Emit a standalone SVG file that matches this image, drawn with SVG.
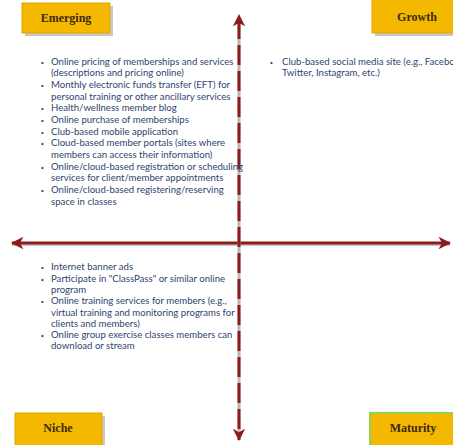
<svg xmlns="http://www.w3.org/2000/svg" width="453" height="445" viewBox="0 0 453 445">
<style>
.box{fill:#F4B800;stroke:#E0A800;stroke-width:1}
.shadow{fill:#9a9a9a;opacity:0.55}
.title{font-family:"Liberation Serif",serif;font-weight:bold;font-size:12px;fill:#3a2a10;text-anchor:middle}
.lst{font-family:Lato,"Liberation Sans",sans-serif;font-size:9.6px;fill:#2F4470}
.bul{font-family:"Liberation Sans",sans-serif;font-size:8px;fill:#2F4470}
</style>
<defs>
<marker id="ah" viewBox="0 0 12 12" refX="11" refY="6" markerWidth="4.2" markerHeight="4.2" markerUnits="strokeWidth" orient="auto-start-reverse">
<path d="M0,0 L12,6 L0,12 L3.5,6 z" fill="#8B1C1C"/>
</marker>
</defs>
<rect width="453" height="445" fill="#ffffff"/>
<g id="connectors">
<line x1="12" y1="244.5" x2="450" y2="244.5" stroke="#b0a0a0" stroke-width="3" opacity="0.6"/>
<line x1="12" y1="243" x2="450" y2="243" stroke="#8B1C1C" stroke-width="3" marker-start="url(#ah)" marker-end="url(#ah)"/>
<line x1="239" y1="22" x2="239" y2="432" stroke="#b8b8b8" stroke-width="3"/>
<line x1="239" y1="15" x2="239" y2="440" stroke="#8B1C1C" stroke-width="3" stroke-dasharray="20 6" stroke-dashoffset="-4" marker-start="url(#ah)" marker-end="url(#ah)"/>
</g>
<g id="emerging">
<rect class="shadow" x="25" y="6" width="88" height="30"/>
<rect class="box" x="22" y="3" width="88" height="30"/>
<text class="title" x="66" y="22">Emerging</text>
</g>
<g id="growth">
<rect class="shadow" x="375" y="3" width="80" height="33"/>
<rect class="box" x="372" y="-1" width="84" height="34"/>
<text class="title" x="417" y="21">Growth</text>
</g>
<g id="niche">
<rect class="shadow" x="18" y="416" width="87" height="32"/>
<rect class="box" x="15" y="413" width="87" height="34"/>
<text class="title" x="58" y="432">Niche</text>
</g>
<g id="maturity">
<rect class="shadow" x="372" y="415" width="85" height="32"/>
<rect x="370" y="413" width="86" height="34" fill="#F4B800" stroke="#92D050" stroke-width="2"/>
<text class="title" x="413" y="432">Maturity</text>
</g>
<g id="emerging-list">
<text class="bul" x="41" y="64.5">•</text>
<text class="lst" x="51" y="64.5">Online pricing of memberships and services</text>
<text class="lst" x="51" y="76.2">(descriptions and pricing online)</text>
<text class="bul" x="41" y="87.8">•</text>
<text class="lst" x="51" y="87.8">Monthly electronic funds transfer (EFT) for</text>
<text class="lst" x="51" y="99.5">personal training or other ancillary services</text>
<text class="bul" x="41" y="111.2">•</text>
<text class="lst" x="51" y="111.2">Health/wellness member blog</text>
<text class="bul" x="41" y="122.8">•</text>
<text class="lst" x="51" y="122.8">Online purchase of memberships</text>
<text class="bul" x="41" y="134.5">•</text>
<text class="lst" x="51" y="134.5">Club-based mobile application</text>
<text class="bul" x="41" y="146.2">•</text>
<text class="lst" x="51" y="146.2">Cloud-based member portals (sites where</text>
<text class="lst" x="51" y="157.8">members can access their information)</text>
<text class="bul" x="41" y="169.5">•</text>
<text class="lst" x="51" y="169.5">Online/cloud-based registration or scheduling</text>
<text class="lst" x="51" y="181.2">services for client/member appointments</text>
<text class="bul" x="41" y="192.8">•</text>
<text class="lst" x="51" y="192.8">Online/cloud-based registering/reserving</text>
<text class="lst" x="51" y="204.5">space in classes</text>
</g>
<g id="growth-list">
<text class="bul" x="270" y="64.5">•</text>
<text class="lst" x="282" y="64.5">Club-based social media site (e.g., Facebook,</text>
<text class="lst" x="282" y="76.2">Twitter, Instagram, etc.)</text>
</g>
<g id="niche-list">
<text class="bul" x="41" y="270.3">•</text>
<text class="lst" x="51" y="270.3">Internet banner ads</text>
<text class="bul" x="41" y="281.6">•</text>
<text class="lst" x="51" y="281.6">Participate in "ClassPass" or similar online</text>
<text class="lst" x="51" y="292.9">program</text>
<text class="bul" x="41" y="304.2">•</text>
<text class="lst" x="51" y="304.2">Online training services for members (e.g.,</text>
<text class="lst" x="51" y="315.5">virtual training and monitoring programs for</text>
<text class="lst" x="51" y="326.8">clients and members)</text>
<text class="bul" x="41" y="338.1">•</text>
<text class="lst" x="51" y="338.1">Online group exercise classes members can</text>
<text class="lst" x="51" y="349.4">download or stream</text>
</g>
</svg>
